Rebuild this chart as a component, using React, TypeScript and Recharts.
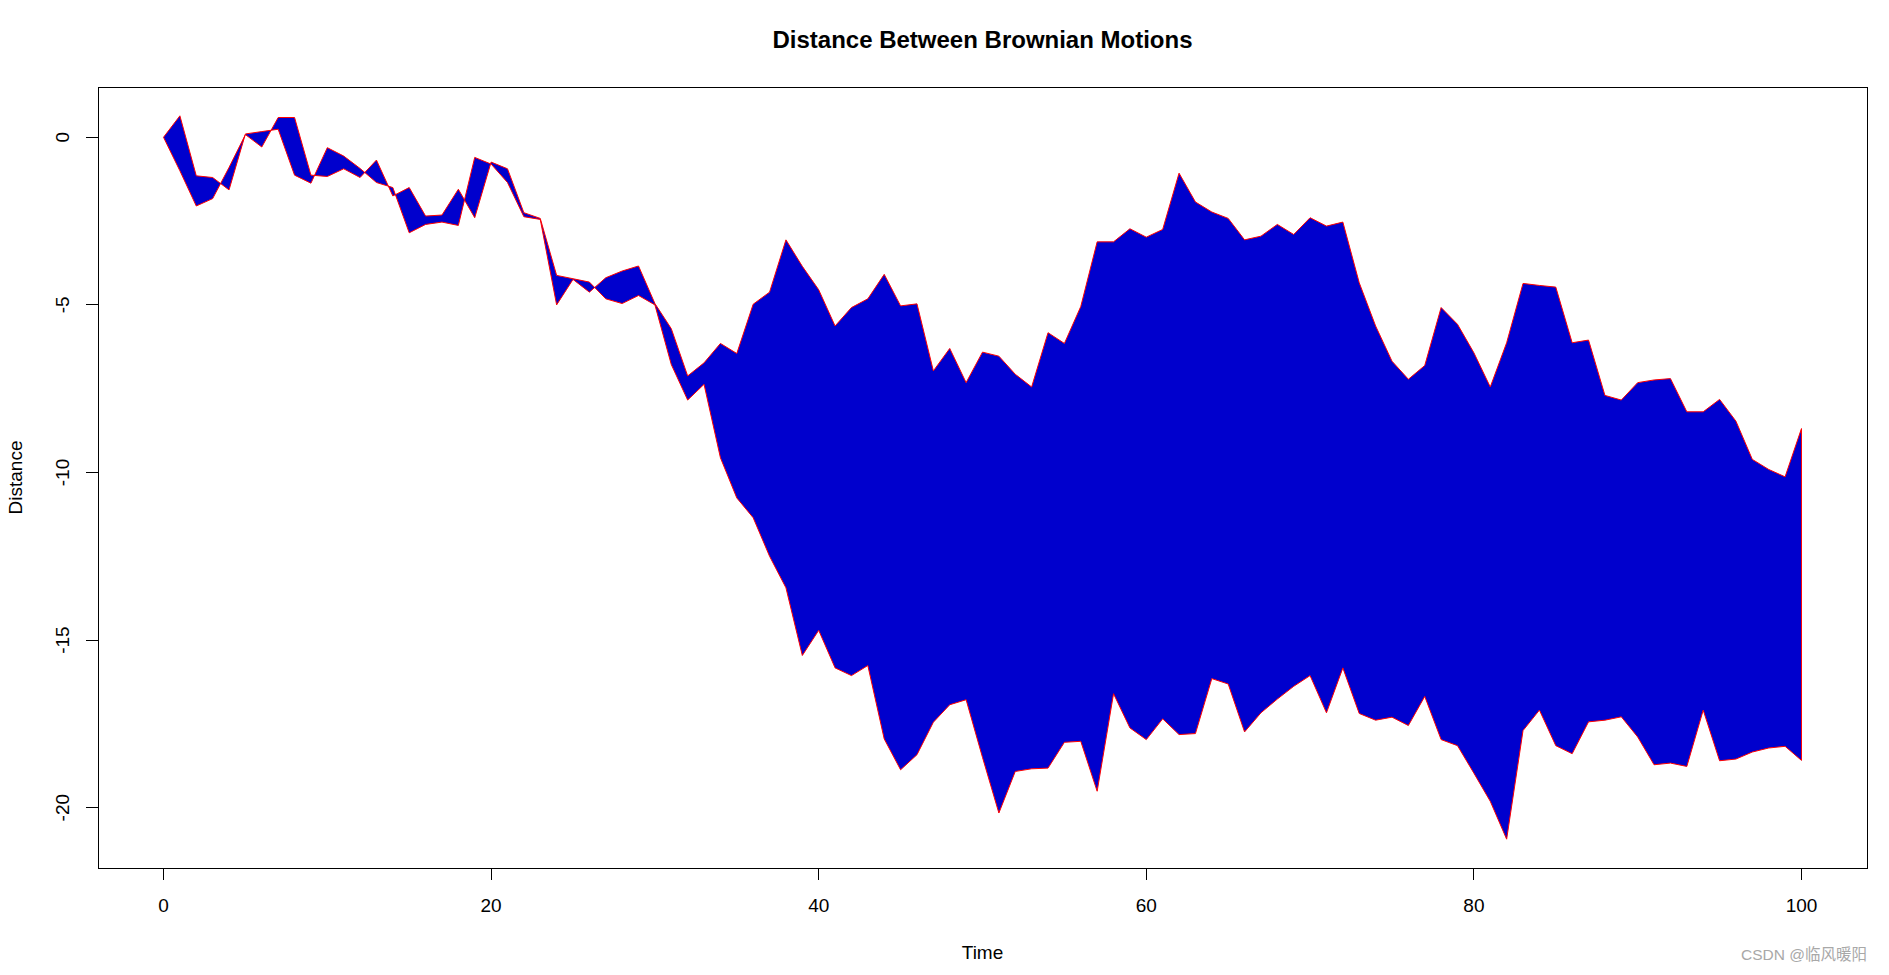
import {
  ComposedChart,
  Area,
  XAxis,
  YAxis,
  ReferenceArea,
  ReferenceLine,
  Label,
} from 'recharts'

// time steps 0..100
const TIME: number[] = Array.from({ length: 101 }, (_, i) => i)

// first path (upper edge after t=33)
const MOTION_A: number[] = [
  0, 0.64, -1.15, -1.2, -1.57, 0.1, 0.17, 0.24, -1.13, -1.37,
  -0.31, -0.56, -0.93, -1.35, -1.5, -2.85, -2.6, -2.53, -2.63, -0.6,
  -0.8, -1.35, -2.37, -2.45, -5.0, -4.24, -4.62, -4.19, -3.99, -3.84,
  -4.96, -5.71, -7.12, -6.73, -6.15, -6.45, -4.98, -4.62, -3.06, -3.85,
  -4.55, -5.63, -5.08, -4.82, -4.09, -5.03, -4.97, -6.97, -6.3, -7.32,
  -6.41, -6.53, -7.07, -7.45, -5.83, -6.15, -5.05, -3.12, -3.12, -2.73,
  -2.98, -2.75, -1.07, -1.93, -2.23, -2.42, -3.06, -2.95, -2.6, -2.9,
  -2.4, -2.65, -2.53, -4.34, -5.63, -6.68, -7.22, -6.81, -5.08, -5.58,
  -6.43, -7.45, -6.13, -4.36, -4.42, -4.47, -6.13, -6.05, -7.7, -7.84,
  -7.32, -7.24, -7.2, -8.19, -8.19, -7.82, -8.47, -9.61, -9.91, -10.13,
  -8.69,
]

// second path (lower edge after t=33)
const MOTION_B: number[] = [
  0, -1.0, -2.05, -1.83, -0.9, 0.08, -0.29, 0.59, 0.59, -1.13,
  -1.17, -0.94, -1.2, -0.68, -1.75, -1.5, -2.35, -2.32, -1.55, -2.4,
  -0.74, -0.94, -2.25, -2.42, -4.12, -4.22, -4.32, -4.82, -4.96, -4.72,
  -5.0, -6.78, -7.84, -7.37, -9.56, -10.76, -11.35, -12.5, -13.44, -15.46,
  -14.71, -15.83, -16.06, -15.76, -17.95, -18.87, -18.42, -17.45, -16.93, -16.78,
  -18.5, -20.16, -18.92, -18.84, -18.82, -18.05, -18.02, -19.51, -16.6, -17.62,
  -17.97, -17.35, -17.82, -17.79, -16.15, -16.31, -17.74, -17.17, -16.76, -16.38,
  -16.06, -17.17, -15.83, -17.19, -17.39, -17.3, -17.55, -16.68, -17.97, -18.15,
  -18.97, -19.81, -20.94, -17.7, -17.09, -18.15, -18.39, -17.44, -17.39, -17.29,
  -17.89, -18.72, -18.67, -18.77, -17.09, -18.6, -18.55, -18.34, -18.22, -18.17,
  -18.59,
]

const X_TICKS = [0, 20, 40, 60, 80, 100]
const Y_TICKS = [-20, -15, -10, -5, 0]
const X_DOMAIN: [number, number] = [-4, 104]
const Y_DOMAIN: [number, number] = [-21.8, 1.5]

const data = TIME.map((t, i) => ({ t, a: MOTION_A[i], b: MOTION_B[i] }))
const last = data[data.length - 1]

const FONT = '"Liberation Sans", Arial, sans-serif'

const XTick = (p: any) => (
  <text
    x={p.x}
    y={p.y + 25}
    textAnchor="middle"
    dominantBaseline="central"
    fontSize={19}
    fontFamily={FONT}
    fill="#000"
  >
    {p.payload.value}
  </text>
)

const YTick = (p: any) => {
  const cx = p.x - 23.7
  const cy = p.y
  return (
    <text
      x={cx}
      y={cy}
      transform={`rotate(-90 ${cx} ${cy})`}
      textAnchor="middle"
      dominantBaseline="central"
      fontSize={19}
      fontFamily={FONT}
      fill="#000"
    >
      {p.payload.value}
    </text>
  )
}

const XLabel = (p: any) => {
  const vb = p.viewBox || { x: 98, y: 868, width: 1769 }
  return (
    <text
      x={vb.x + vb.width / 2}
      y={vb.y + 84}
      textAnchor="middle"
      dominantBaseline="central"
      fontSize={19}
      fontFamily={FONT}
      fill="#000"
    >
      Time
    </text>
  )
}

const YLabel = (p: any) => {
  const vb = p.viewBox || { x: 0, y: 87, height: 781 }
  const cx = 15
  const cy = vb.y + vb.height / 2
  return (
    <text
      x={cx}
      y={cy}
      transform={`rotate(-90 ${cx} ${cy})`}
      textAnchor="middle"
      dominantBaseline="central"
      fontSize={19}
      fontFamily={FONT}
      fill="#000"
    >
      Distance
    </text>
  )
}

export default function App() {
  return (
    <div
      style={{
        position: 'absolute',
        left: 0,
        top: 0,
        width: 1889,
        height: 975,
        background: '#fff',
        fontFamily: FONT,
      }}
    >
      <div
        style={{
          position: 'absolute',
          left: 98,
          width: 1769,
          top: 28.3,
          textAlign: 'center',
          fontSize: 24,
          lineHeight: '24px',
          fontWeight: 'bold',
          color: '#000',
        }}
      >
        Distance Between Brownian Motions
      </div>
      <ComposedChart
        width={1889}
        height={975}
        data={data}
        margin={{ top: 87, right: 22, bottom: 0, left: 0 }}
      >
        <XAxis
          dataKey="t"
          type="number"
          domain={X_DOMAIN}
          ticks={X_TICKS}
          interval={0}
          allowDataOverflow
          axisLine={false}
          tickLine={{ stroke: '#000', shapeRendering: 'crispEdges' }}
          tickSize={12}
          tickMargin={0}
          height={107}
          tick={XTick}
        >
          <Label content={XLabel} />
        </XAxis>
        <YAxis
          type="number"
          domain={Y_DOMAIN}
          ticks={Y_TICKS}
          interval={0}
          allowDataOverflow
          axisLine={false}
          tickLine={{ stroke: '#000', shapeRendering: 'crispEdges' }}
          tickSize={12}
          tickMargin={0}
          width={98}
          tick={YTick}
        >
          <Label content={YLabel} />
        </YAxis>
        <Area
          type="linear"
          dataKey={(d: any) => [d.b, d.a]}
          stroke="#ff0000"
          strokeWidth={1}
          fill="#0000cd"
          fillOpacity={1}
          dot={false}
          activeDot={false}
          isAnimationActive={false}
        />
        <ReferenceLine
          segment={[
            { x: last.t, y: last.a },
            { x: last.t, y: last.b },
          ]}
          stroke="#ff0000"
          strokeWidth={1}
          ifOverflow="visible"
        />
        <ReferenceArea
          x1={X_DOMAIN[0]}
          x2={X_DOMAIN[1]}
          y1={Y_DOMAIN[0]}
          y2={Y_DOMAIN[1]}
          fill="none"
          fillOpacity={0}
          stroke="#000"
          strokeWidth={1}
          strokeOpacity={1}
          shapeRendering="crispEdges"
          ifOverflow="visible"
        />
      </ComposedChart>
      <div
        style={{
          position: 'absolute',
          right: 1889 - 1867,
          top: 947,
          fontSize: 15.5,
          lineHeight: '15.5px',
          color: '#a8a8a8',
          fontFamily: '"Liberation Sans", "Noto Sans CJK SC", sans-serif',
          whiteSpace: 'nowrap',
        }}
      >
        CSDN @临风暖阳
      </div>
    </div>
  )
}
